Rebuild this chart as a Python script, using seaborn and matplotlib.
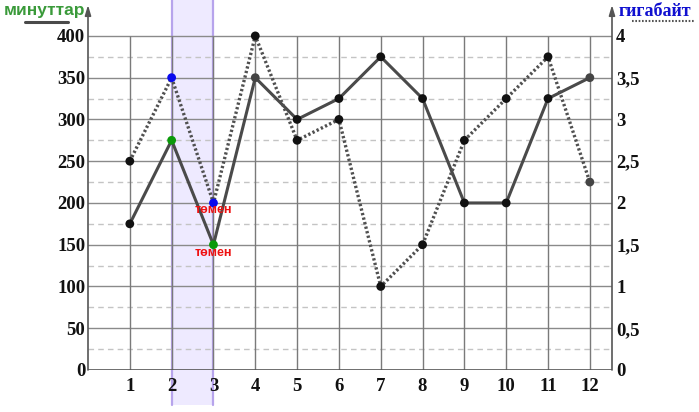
import matplotlib
matplotlib.use("Agg")
import matplotlib.pyplot as plt
import matplotlib.transforms as mtransforms
from matplotlib.patches import Rectangle
from matplotlib.lines import Line2D
import seaborn as sns
import pandas as pd

months = [1, 2, 3, 4, 5, 6, 7, 8, 9, 10, 11, 12]
minutes = [175, 275, 150, 350, 300, 325, 375, 325, 200, 200, 325, 350]
gigabytes = [2.5, 3.5, 2, 4, 2.75, 3, 1, 1.5, 2.75, 3.25, 3.75, 2.25]
left_ticks = [0, 50, 100, 150, 200, 250, 300, 350, 400]
right_ticks = [0, 0.5, 1, 1.5, 2, 2.5, 3, 3.5, 4]
right_labels = ["0", "0,5", "1", "1,5", "2", "2,5", "3", "3,5", "4"]
highlight = [2, 3]
low_label = "төмен"
min_label = "минуттар"
gb_label = "гигабайт"

sns.set_theme(style="white")
plt.rcParams['font.family'] = ['DejaVu Sans']

df = pd.DataFrame({"month": months, "minutes": minutes, "gb": gigabytes})

W, H = 699, 412
fig = plt.figure(figsize=(W / 100, H / 100), dpi=100)
ax_l, ax_r, ax_b, ax_t = 88, 612, 370, 5
ax = fig.add_axes([ax_l / W, (H - ax_b) / H, (ax_r - ax_l) / W, (ax_b - ax_t) / H])
ymax = 437
ax.set_xlim(0, 12.53)
ax.set_ylim(0, ymax)
ax2 = ax.twinx()
ax2.set_ylim(0, ymax / 100)
for a in (ax, ax2):
    for s in a.spines.values():
        s.set_visible(False)
    a.patch.set_visible(False)
ax.set_zorder(2)
ax2.set_zorder(3)

# highlight band
trans = mtransforms.blended_transform_factory(ax.transData, ax.transAxes)
band_bottom, band_h = -0.096, 1.11
rect = Rectangle((highlight[0], band_bottom), highlight[1] - highlight[0], band_h,
                 transform=trans, facecolor="#eeeaff", edgecolor="none",
                 clip_on=False, zorder=0)
ax.add_patch(rect)
for xv in highlight:
    ax.add_artist(Line2D([xv, xv], [band_bottom, band_bottom + band_h], transform=trans,
                         color="#b7a4ec", lw=1.6, clip_on=False, zorder=0.5))

# grid
for v in range(25, 401, 25):
    if v % 50 == 0:
        ax.axhline(v, color="#8a8a8a", lw=1.0, zorder=1)
    else:
        ax.axhline(v, color="#c4c4c4", lw=1.0, ls=(0, (4, 3)), zorder=1)
ax.vlines(months, 0, 400, color="#7a7a7a", lw=1.0, zorder=1)
ax.axhline(0, color="#555555", lw=1.2, zorder=2)

# axis arrows
for xa in (0, 1):
    ax.annotate("", xy=(xa, 1.0), xytext=(xa, 0), xycoords="axes fraction",
                arrowprops=dict(arrowstyle="-|>,head_length=0.5,head_width=0.15",
                                color="#555555", lw=1.2, shrinkA=0, shrinkB=0),
                annotation_clip=False, zorder=5)

# lines
sns.lineplot(data=df, x="month", y="minutes", ax=ax, color="#4a4a4a", lw=2.2, zorder=4)
sns.lineplot(data=df, x="month", y="gb", ax=ax2, color="#505050", lw=2.4,
             linestyle=(0, (0.7, 0.7)), zorder=4)

min_colors = ["#111111"] * len(months)
gb_colors = ["#111111"] * len(months)
for m in highlight:
    i = months.index(m)
    min_colors[i] = "#0a9a0a"
    gb_colors[i] = "#0a0aee"
min_colors[months.index(4)] = "#444444"
min_colors[months.index(12)] = "#444444"
gb_colors[months.index(12)] = "#444444"
ax.scatter(months, minutes, c=min_colors, s=40, zorder=6, edgecolors="none")
ax2.scatter(months, gigabytes, c=gb_colors, s=40, zorder=6, edgecolors="none")

# low labels
i3 = months.index(highlight[1])
ax.annotate(low_label, (months[i3], minutes[i3]), xytext=(0, -6), textcoords="offset points",
            ha="center", va="center", color="#ee1111", fontsize=9, fontweight="bold",
            family="Liberation Sans", zorder=7)
ax2.annotate(low_label, (months[i3], gigabytes[i3]), xytext=(0, -5), textcoords="offset points",
             ha="center", va="center", color="#ee1111", fontsize=9, fontweight="bold",
             family="Liberation Sans", zorder=7)

# ticks
tick_font = dict(family="Liberation Serif", fontweight="bold", fontsize=13.5, color="#111111")
ax.set_xticks(months)
ax.set_xticklabels([str(m) for m in months], **tick_font)
ax.set_yticks(left_ticks)
ax.set_yticklabels([str(v) for v in left_ticks], **tick_font)
ax2.set_yticks(right_ticks)
ax2.set_yticklabels(right_labels, **tick_font)
ax.tick_params(axis="x", length=0, pad=6)
ax.tick_params(axis="y", length=0, pad=2)
ax2.tick_params(axis="y", length=0, pad=3)
ax.set_xlabel("")
ax.set_ylabel("")
ax2.set_ylabel("")

# legend-like headers
fig.text(4 / W, 1 - 11 / H, min_label, color="#3a9a3a", fontsize=12.5, fontweight="bold",
         family="Liberation Sans", ha="left", va="center")
fig.add_artist(Line2D([25 / W, 68 / W], [1 - 22 / H, 1 - 22 / H], color="#4a4a4a", lw=2.2))
fig.text(619 / W, 1 - 11 / H, gb_label, color="#1010d0", fontsize=13, fontweight="bold",
         family="Liberation Serif", ha="left", va="center")
fig.add_artist(Line2D([632 / W, 695 / W], [1 - 21 / H, 1 - 21 / H], color="#555555", lw=1.5,
                      linestyle=(0, (0.8, 0.8))))

fig.savefig("out.png", dpi=100)
